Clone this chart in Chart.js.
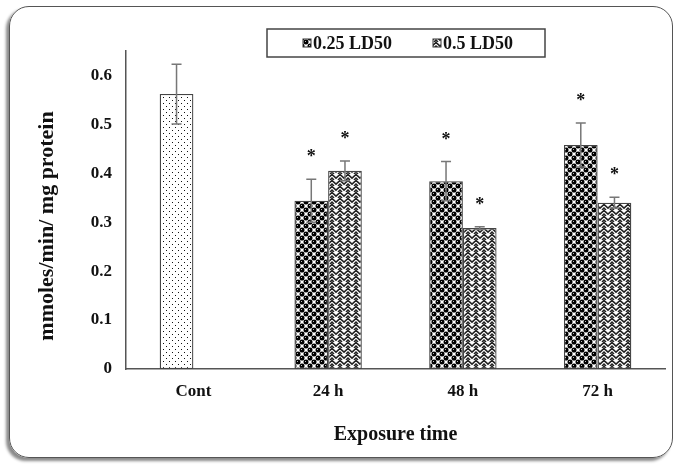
<!DOCTYPE html>
<html>
<head>
<meta charset="utf-8">
<script src="https://cdn.jsdelivr.net/npm/chart.js@4.4.1/dist/chart.umd.min.js"></script>
<style>
  html, body { margin: 0; padding: 0; background: #fff; }
  #wrap { position: relative; width: 680px; height: 466px; }
  #frame {
    position: absolute; left: 9px; top: 6px; width: 662px; height: 450px;
    border: 1.5px solid #555; border-radius: 20px;
    box-shadow: -3px 3px 3px #8a8a8a;
  }
  #c { position: absolute; left: 0; top: 0; }
</style>
</head>
<body>
<div id="wrap">
  <div id="frame"></div>
  <canvas id="c" width="680" height="466"></canvas>
</div>
<script>
// ===================== DATA =====================
const categories = ['Cont', '24 h', '48 h', '72 h'];
const seriesNames = ['0.25 LD50', '0.5 LD50'];

const lowDose = [0.562, 0.344, 0.384, 0.458];     // Cont sits in this series
const lowDoseSd = [0.061, 0.044, 0.040, 0.045];
const lowDoseStar = [false, true, true, true];

const highDose = [null, 0.405, 0.288, 0.340];
const highDoseSd = [null, 0.020, 0.003, 0.011];
const highDoseStar = [false, true, true, true];

const yTicks = [0, 0.1, 0.2, 0.3, 0.4, 0.5, 0.6];
const yMax = 0.65;

const yTitle = 'mmoles/min/ mg protein';
const xTitle = 'Exposure time';

const FONT = '"Liberation Serif", "Times New Roman", serif';
const AXIS_COLOR = '#555';

// ===================== PATTERNS =====================
function makePattern(kind) {
  const c = document.createElement('canvas');
  const g = c.getContext('2d');
  if (kind === 'dots') {
    c.width = 6; c.height = 6;
    g.fillStyle = '#fff'; g.fillRect(0, 0, 6, 6);
    g.fillStyle = '#111';
    g.fillRect(1, 1, 1, 1);
    g.fillRect(4, 4, 1, 1);
  } else if (kind === 'balls') {
    c.width = 8; c.height = 8;
    g.fillStyle = '#fff'; g.fillRect(0, 0, 8, 8);
    g.fillStyle = '#000';
    // wrapped copies so the tile repeats cleanly
    [[2, 2], [6, 6], [-2, -2], [10, 10], [-2, 6], [6, -2], [10, 2], [2, 10]].forEach(([x, y]) => {
      g.beginPath(); g.arc(x, y, 2.5, 0, Math.PI * 2); g.fill();
    });
    g.fillStyle = '#bbb';
    g.fillRect(1, 1, 1, 1);
    g.fillRect(5, 5, 1, 1);
  } else {
    c.width = 8; c.height = 6;
    g.fillStyle = '#fff'; g.fillRect(0, 0, 8, 6);
    g.strokeStyle = '#222'; g.lineWidth = 1.6;
    g.beginPath();
    g.moveTo(-1, 5); g.lineTo(4, 0.5); g.lineTo(9, 5);
    g.moveTo(2, 6); g.lineTo(4, 4.2); g.lineTo(6, 6);
    g.stroke();
  }
  return g.createPattern(c, 'repeat');
}

const dotsPat = makePattern('dots');
const ballsPat = makePattern('balls');
const zigPat = makePattern('zig');

// ===================== PLUGINS =====================
const errorBars = {
  id: 'errorBars',
  afterDatasetsDraw(chart) {
    const ctx = chart.ctx;
    const y = chart.scales.y;
    chart.data.datasets.forEach((ds, i) => {
      const meta = chart.getDatasetMeta(i);
      meta.data.forEach((bar, j) => {
        const v = ds.data[j];
        if (v == null) return;
        const sd = ds.sd[j];
        const yTop = y.getPixelForValue(v + sd);
        const yBot = y.getPixelForValue(v - sd);
        ctx.save();
        ctx.strokeStyle = '#777';
        ctx.lineWidth = 1.5;
        ctx.beginPath();
        ctx.moveTo(bar.x, yTop); ctx.lineTo(bar.x, yBot);
        ctx.moveTo(bar.x - 5, yTop); ctx.lineTo(bar.x + 5, yTop);
        ctx.moveTo(bar.x - 5, yBot); ctx.lineTo(bar.x + 5, yBot);
        ctx.stroke();
        if (ds.star[j]) {
          ctx.fillStyle = '#111';
          ctx.font = 'bold 18px ' + FONT;
          ctx.textAlign = 'center';
          ctx.textBaseline = 'alphabetic';
          ctx.fillText('*', bar.x, yTop - 17);
        }
        ctx.restore();
      });
    });
  }
};

const boxLegend = {
  id: 'boxLegend',
  afterDraw(chart) {
    const ctx = chart.ctx;
    const area = chart.chartArea;
    const left = area.left + 141, top = 29, w = 278, h = 28;
    const itemX = [36, 166];
    ctx.save();
    ctx.strokeStyle = '#444';
    ctx.lineWidth = 1.5;
    ctx.strokeRect(left, top, w, h);
    ctx.font = 'bold 18px ' + FONT;
    ctx.textBaseline = 'middle';
    chart.data.datasets.forEach((ds, i) => {
      const x = left + itemX[i];
      ctx.fillStyle = ds.legendPat;
      ctx.fillRect(x, top + h / 2 - 4, 8, 8);
      ctx.strokeStyle = '#333';
      ctx.lineWidth = 1;
      ctx.strokeRect(x, top + h / 2 - 4, 8, 8);
      ctx.fillStyle = '#111';
      ctx.fillText(ds.label, x + 10, top + h / 2 + 1);
    });
    ctx.restore();
  }
};

const yAxisTitle = {
  id: 'yAxisTitle',
  afterDraw(chart) {
    const ctx = chart.ctx;
    ctx.save();
    ctx.translate(47, 226);
    ctx.rotate(-Math.PI / 2);
    ctx.font = 'bold 22px ' + FONT;
    ctx.fillStyle = '#111';
    ctx.textAlign = 'center';
    ctx.textBaseline = 'middle';
    ctx.fillText(yTitle, 0, 0);
    ctx.restore();
  }
};

// ===================== CHART =====================
new Chart(document.getElementById('c'), {
  type: 'bar',
  data: {
    labels: categories,
    datasets: [
      {
        label: seriesNames[0],
        data: lowDose,
        sd: lowDoseSd,
        star: lowDoseStar,
        legendPat: ballsPat,
        backgroundColor: categories.map((c, i) => i === 0 ? dotsPat : ballsPat),
        borderColor: '#444',
        borderWidth: 1.3,
        borderSkipped: false
      },
      {
        label: seriesNames[1],
        data: highDose,
        sd: highDoseSd,
        star: highDoseStar,
        legendPat: zigPat,
        backgroundColor: zigPat,
        borderColor: '#444',
        borderWidth: 1.3,
        borderSkipped: false
      }
    ]
  },
  options: {
    responsive: false,
    animation: false,
    events: [],
    layout: { padding: { top: 51, right: 15, left: 0, bottom: 0 } },
    datasets: { bar: { categoryPercentage: 0.5, barPercentage: 1 } },
    plugins: {
      legend: { display: false },
      tooltip: { enabled: false }
    },
    scales: {
      x: {
        grid: { display: false, drawTicks: false },
        border: { display: true, color: AXIS_COLOR, width: 1.5 },
        ticks: {
          color: '#111',
          padding: 12,
          font: { family: FONT, size: 17, weight: 'bold' }
        },
        title: {
          display: true,
          text: xTitle,
          color: '#111',
          padding: { top: 0, bottom: 19 },
          font: { family: FONT, size: 20, weight: 'bold' }
        },
        afterFit(s) { s.height = 97; }
      },
      y: {
        min: 0,
        max: yMax,
        grid: { display: false, drawTicks: false },
        border: { display: true, color: AXIS_COLOR, width: 1.5 },
        afterBuildTicks(s) { s.ticks = yTicks.map(v => ({ value: v })); },
        ticks: {
          color: '#111',
          padding: 14,
          font: { family: FONT, size: 17, weight: 'bold' },
          callback: v => v === 0 ? '0' : v.toFixed(1)
        },
        afterFit(s) { s.width = 126; }
      }
    }
  },
  plugins: [errorBars, boxLegend, yAxisTitle]
});
</script>
</body>
</html>
